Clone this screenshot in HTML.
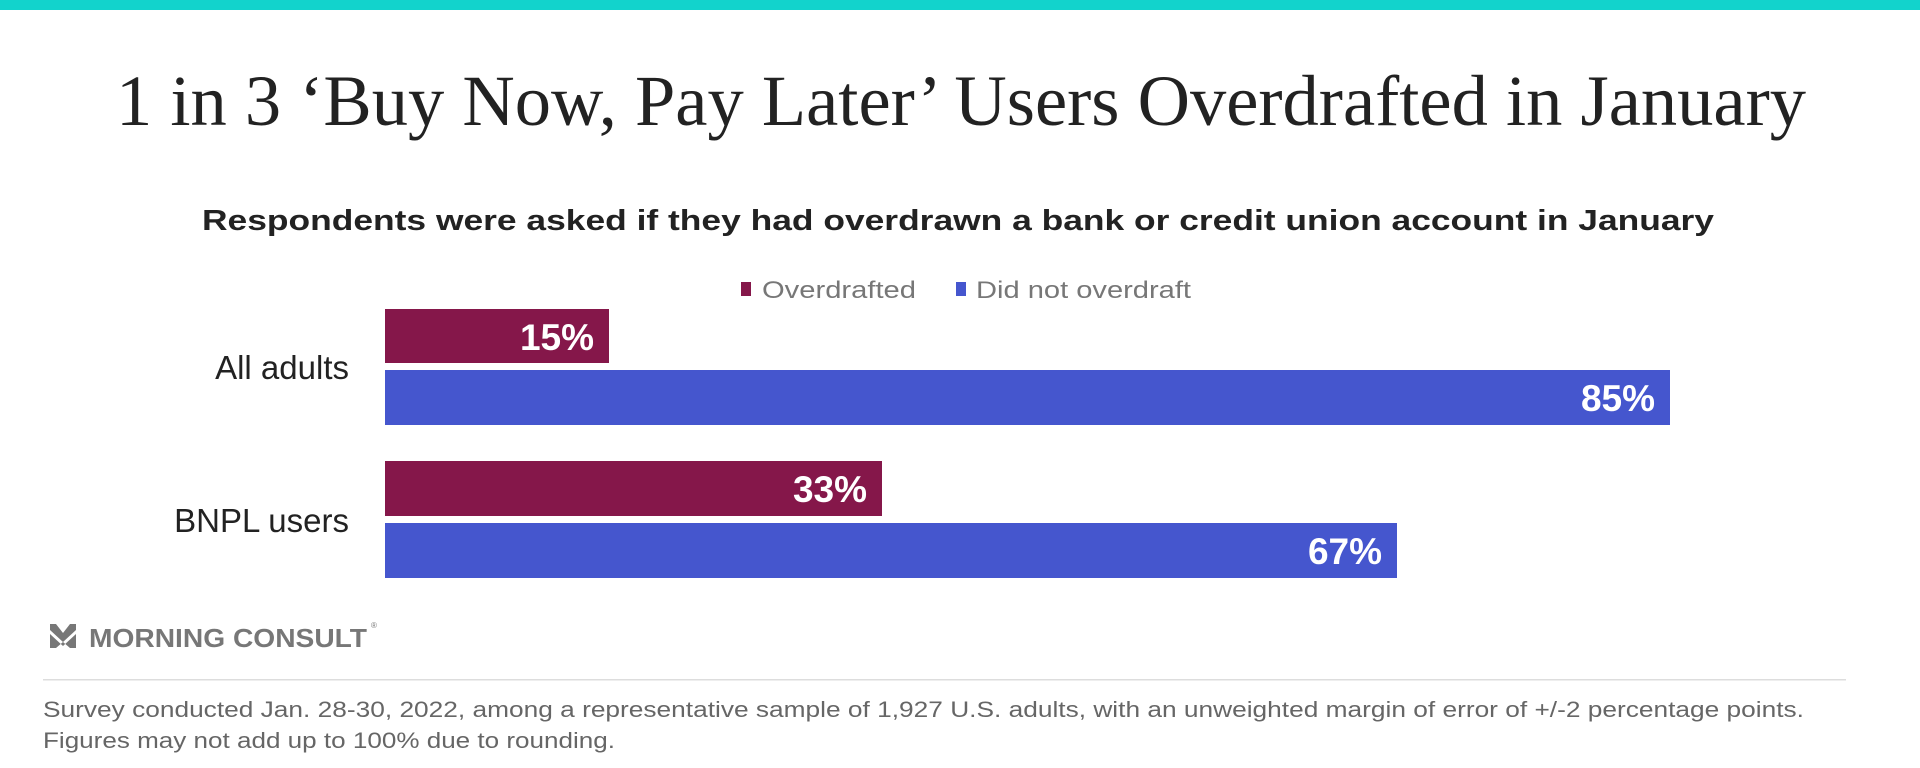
<!DOCTYPE html>
<html><head><meta charset="utf-8"><style>
html,body{margin:0;padding:0;background:#fff;}
svg{display:block}
</style></head><body>
<svg width="1920" height="768" viewBox="0 0 1920 768" xmlns="http://www.w3.org/2000/svg">
<rect x="0" y="0" width="1920" height="10" fill="#12D3CC"/>
<text x="961" y="125" text-anchor="middle" font-family="Liberation Serif, serif" font-size="72" fill="#222" textLength="1690" lengthAdjust="spacingAndGlyphs">1 in 3 ‘Buy Now, Pay Later’ Users Overdrafted in January</text>
<text x="958" y="230" text-anchor="middle" font-family="Liberation Sans, sans-serif" font-weight="bold" font-size="29" fill="#222" textLength="1512" lengthAdjust="spacingAndGlyphs">Respondents were asked if they had overdrawn a bank or credit union account in January</text>
<rect x="741" y="282" width="10" height="14" fill="#85174A"/>
<text x="762" y="298" font-family="Liberation Sans, sans-serif" font-size="24" fill="#777" textLength="154" lengthAdjust="spacingAndGlyphs">Overdrafted</text>
<rect x="956" y="282" width="10" height="14" fill="#4556CE"/>
<text x="976" y="298" font-family="Liberation Sans, sans-serif" font-size="24" fill="#777" textLength="215" lengthAdjust="spacingAndGlyphs">Did not overdraft</text>
<rect x="385" y="309" width="224" height="54" fill="#85174A"/>
<rect x="385" y="370" width="1285" height="55" fill="#4556CE"/>
<rect x="385" y="461" width="497" height="55" fill="#85174A"/>
<rect x="385" y="523" width="1012" height="55" fill="#4556CE"/>
<g font-family="Liberation Sans, sans-serif" font-weight="bold" font-size="37" fill="#fff" text-anchor="end">
<text x="594" y="350">15%</text>
<text x="1655" y="411">85%</text>
<text x="867" y="502">33%</text>
<text x="1382" y="564">67%</text>
</g>
<g font-family="Liberation Sans, sans-serif" font-size="33" fill="#222" text-anchor="end">
<text x="349" y="379">All adults</text>
<text x="349" y="532">BNPL users</text>
</g>
<polygon points="50,624 56,624 63,633 70,624 76,624 76,630 63,642 50,630" fill="#777"/>
<polygon points="50,634 63,646 76,634 76,648 70,648 63,642 56,648 50,648" fill="#777"/>
<text x="89" y="647" font-family="Liberation Sans, sans-serif" font-weight="bold" font-size="26" fill="#777" textLength="278" lengthAdjust="spacingAndGlyphs">MORNING CONSULT</text>
<text x="371" y="628" font-family="Liberation Sans, sans-serif" font-size="8" fill="#777">®</text>
<rect x="43" y="679" width="1803" height="1.5" fill="#ddd"/>
<g font-family="Liberation Sans, sans-serif" font-size="22" fill="#666">
<text x="43" y="717" textLength="1761" lengthAdjust="spacingAndGlyphs">Survey conducted Jan. 28-30, 2022, among a representative sample of 1,927 U.S. adults, with an unweighted margin of error of +/-2 percentage points.</text>
<text x="43" y="748" textLength="572" lengthAdjust="spacingAndGlyphs">Figures may not add up to 100% due to rounding.</text>
</g>
</svg>
</body></html>
